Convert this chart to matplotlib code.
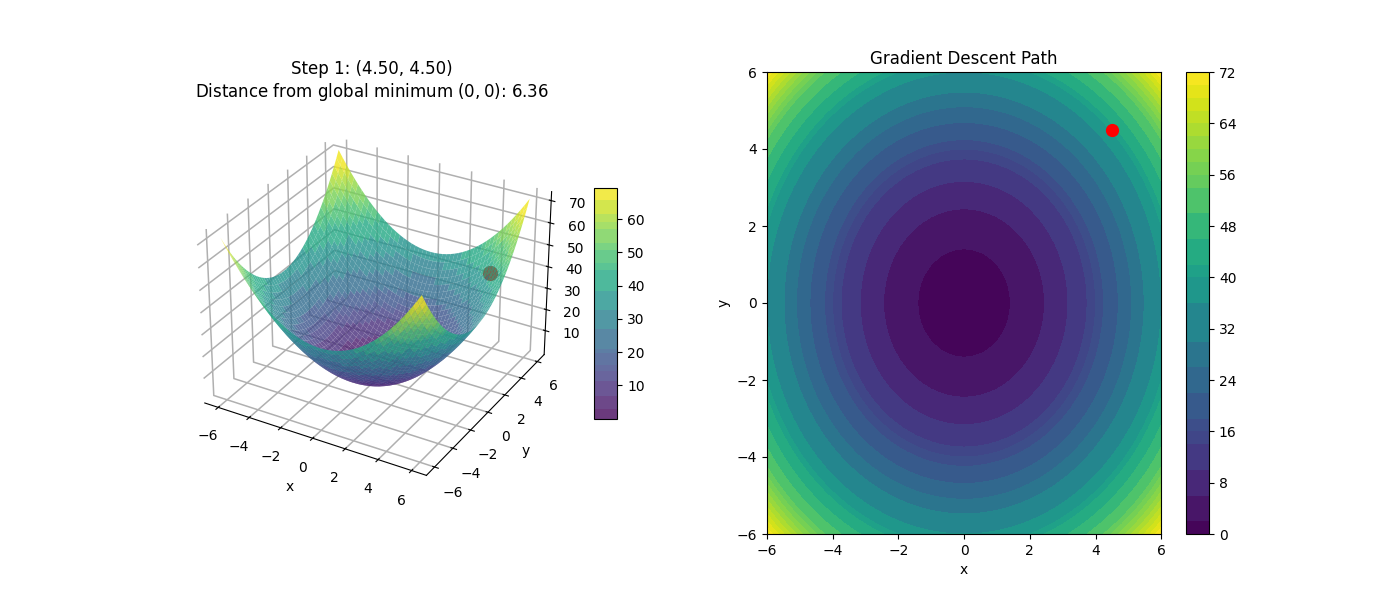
import numpy as np
import matplotlib
matplotlib.use("Agg")
import matplotlib.pyplot as plt
from matplotlib.colors import BoundaryNorm, ListedColormap, Normalize

plt.rcParams["grid.linewidth"] = 1.1

# Grid positions along each horizontal axis
grid_x = [-6.0, -5.75, -5.5, -5.25, -5.0, -4.75, -4.5, -4.25, -4.0, -3.75, -3.5, -3.25, -3.0,
          -2.75, -2.5, -2.25, -2.0, -1.75, -1.5, -1.25, -1.0, -0.75, -0.5, -0.25, 0.0,
          0.25, 0.5, 0.75, 1.0, 1.25, 1.5, 1.75, 2.0, 2.25, 2.5, 2.75, 3.0, 3.25, 3.5,
          3.75, 4.0, 4.25, 4.5, 4.75, 5.0, 5.25, 5.5, 5.75, 6.0]
grid_y = list(grid_x)

# Height of the bowl's cross-sections through the origin
section_x = [36.0, 33.06, 30.25, 27.56, 25.0, 22.56, 20.25, 18.06, 16.0, 14.06, 12.25, 10.56, 9.0,
             7.56, 6.25, 5.06, 4.0, 3.06, 2.25, 1.56, 1.0, 0.56, 0.25, 0.06, 0.0,
             0.06, 0.25, 0.56, 1.0, 1.56, 2.25, 3.06, 4.0, 5.06, 6.25, 7.56, 9.0, 10.56, 12.25,
             14.06, 16.0, 18.06, 20.25, 22.56, 25.0, 27.56, 30.25, 33.06, 36.0]
section_y = list(section_x)

# Visible band edges in the reference's two colorbars
contour_levels = [0, 2, 6, 10, 14, 16, 18, 22, 26, 30, 36, 40, 42, 46, 50, 54, 56, 58, 60,
                  62, 64, 66, 68, 70, 72]
surface_bands = [0, 3, 6.7, 11.2, 14.3, 16, 19.8, 21, 26.8, 32.5, 38.4, 44.7, 46.9, 50.7,
                 52.9, 56.9, 59.1, 61.5, 65.7, 69.5]
colorbar_ticks = [0, 8, 16, 24, 32, 40, 48, 56, 64, 72]
surface_ticks = [10, 20, 30, 40, 50, 60]
z_ticks = [10, 20, 30, 40, 50, 60, 70]
axis_ticks = [-6, -4, -2, 0, 2, 4, 6]

# Current descent point
point_x = [4.5]
point_y = [4.5]
point_z = [40.5]

X, Y = np.meshgrid(grid_x, grid_y)
Z = np.add.outer(section_y, section_x)

# Surface colormap holding the reference's bands
edges = np.array(surface_bands)
mids = (edges[:-1] + edges[1:]) / 2
band_cmap = ListedColormap(plt.get_cmap("viridis")(Normalize(0, 69.5)(mids)))
band_norm = BoundaryNorm(surface_bands, band_cmap.N)

fig = plt.figure(figsize=(14, 6), dpi=100)

ax1 = fig.add_subplot(121, projection="3d")
surf = ax1.plot_surface(X, Y, Z, cmap=band_cmap, norm=band_norm, alpha=0.8, rstride=1, cstride=1)
ax1.scatter(point_x, point_y, point_z, color="red", s=100)
ax1.set_zlim(-1.5, 74, view_margin=0)
ax1.set_zticks(z_ticks)
ax1.set_xlabel("x")
ax1.set_ylabel("y")
ax1.set_title("Step 1: (4.50, 4.50)\nDistance from global minimum $(0, 0)$: 6.36")
for axis in (ax1.xaxis, ax1.yaxis, ax1.zaxis):
    axis.set_pane_color((1.0, 1.0, 1.0, 0.0))
    axis.pane.set_edgecolor("#e6e6e6")
cb1 = fig.colorbar(surf, ax=ax1, shrink=0.5, aspect=10, spacing="proportional")
cb1.set_ticks(surface_ticks)
cb1.ax.minorticks_off()

ax2 = fig.add_subplot(122)
cs = ax2.contourf(X, Y, Z, levels=contour_levels, cmap="viridis")
ax2.plot(point_x, point_y, "o", color="red", markersize=8.5, markeredgewidth=1)
ax2.set_xlabel("x")
ax2.set_ylabel("y")
ax2.set_title("Gradient Descent Path")
ax2.set_xticks(axis_ticks)
ax2.set_yticks(axis_ticks)
ax2.set_xlim(-6, 6)
ax2.set_ylim(-6, 6)
cb2 = fig.colorbar(cs, ax=ax2, spacing="proportional")
cb2.set_ticks(colorbar_ticks)

fig.savefig("out.png", dpi=100)
